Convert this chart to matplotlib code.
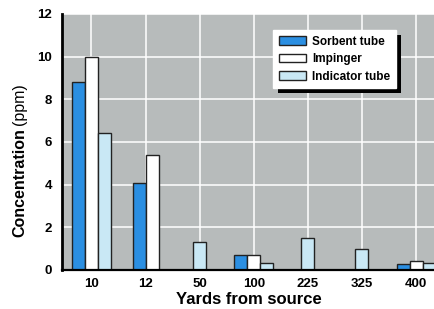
import numpy as np
import matplotlib
matplotlib.use("Agg")
import matplotlib.pyplot as plt
from matplotlib.patches import Rectangle

plt.rcParams['font.family'] = ['Liberation Sans Narrow', 'Liberation Sans', 'DejaVu Sans']

categories = ["10", "12", "50", "100", "225", "325", "400"]
sorbent = [8.8, 4.1, np.nan, 0.7, np.nan, np.nan, 0.3]
impinger = [10.0, 5.4, np.nan, 0.7, np.nan, np.nan, 0.4]
indicator = [6.4, np.nan, 1.3, 0.35, 1.5, 1.0, 0.35]
series_names = ["Sorbent tube", "Impinger", "Indicator tube"]
series_colors = ["#2b8fe2", "#ffffff", "#c9e8f5"]
yticks = [0, 2, 4, 6, 8, 10, 12]

fig = plt.figure(figsize=(4.35, 3.09), dpi=100)
ax = fig.add_axes([62/435, 1-270/309, 1-62/435, 256/309])
ax.set_facecolor("#b7bbbb")

series = [sorbent, impinger, indicator]
w = 0.24
x = np.arange(len(categories))
handles = []
for i in range(len(categories)):
    present = [k for k in range(3) if not np.isnan(series[k][i])]
    n = len(present)
    for j, k in enumerate(present):
        off = (j - (n - 1) / 2) * w
        ax.bar(x[i] + off, series[k][i], width=w, color=series_colors[k],
               edgecolor="#222222", linewidth=1.0, zorder=3)
for k in range(3):
    handles.append(Rectangle((0, 0), 1, 1, facecolor=series_colors[k],
                             edgecolor="#222222", linewidth=1.0))

ax.set_xlim(-0.545, 6.35)
ax.set_ylim(0, 12)
ax.set_xticks(x)
ax.set_xticklabels(categories, fontsize=9.5, fontweight='bold')
ax.set_yticks(yticks)
ax.set_yticklabels([str(t) for t in yticks], fontsize=9.5, fontweight='bold')
ax.tick_params(length=0, pad=6)
ax.tick_params(axis='y', pad=7)
ax.grid(True, color="white", linewidth=1.1)
ax.set_axisbelow(True)
for s in ["top", "right"]:
    ax.spines[s].set_visible(False)
ax.spines["left"].set_linewidth(2.0)
ax.spines["bottom"].set_linewidth(1.6)
ax.spines["left"].set_zorder(5)
ax.spines["bottom"].set_zorder(5)

ax.set_xlabel("Yards from source", fontsize=12, fontweight='bold', labelpad=1)

t1 = fig.text(20/435, 1-237/309, "Concentration", rotation=90, fontsize=11.5,
              fontweight='bold', ha='center', va='bottom')
ax.annotate("(ppm)", xy=(0.5, 1), xycoords=t1, xytext=(0, 2),
            textcoords='offset points', rotation=90, fontsize=11.5,
            ha='center', va='bottom', annotation_clip=False)

leg = ax.legend(handles, series_names, loc='upper left',
                bbox_to_anchor=((273-62)/373, (270-30)/256), borderaxespad=0,
                frameon=True, fancybox=False, framealpha=1, edgecolor='white',
                facecolor='white', prop={'weight': 'bold', 'size': 8.5},
                handlelength=2.3, handleheight=0.75, labelspacing=0.45,
                handletextpad=0.5, borderpad=0.5)
leg.set_zorder(6)
fig.canvas.draw()
bb = leg.get_window_extent()
inv = fig.transFigure.inverted()
(x0, y0) = inv.transform((bb.x0 + 5, bb.y0 - 5))
(x1, y1) = inv.transform((bb.x1 + 5, bb.y1 - 5))
sh = Rectangle((x0, y0), x1 - x0, y1 - y0, transform=fig.transFigure,
               facecolor='black', edgecolor='none', zorder=5.5, clip_on=False)
ax.add_artist(sh)

fig.savefig("out.png", dpi=100)
